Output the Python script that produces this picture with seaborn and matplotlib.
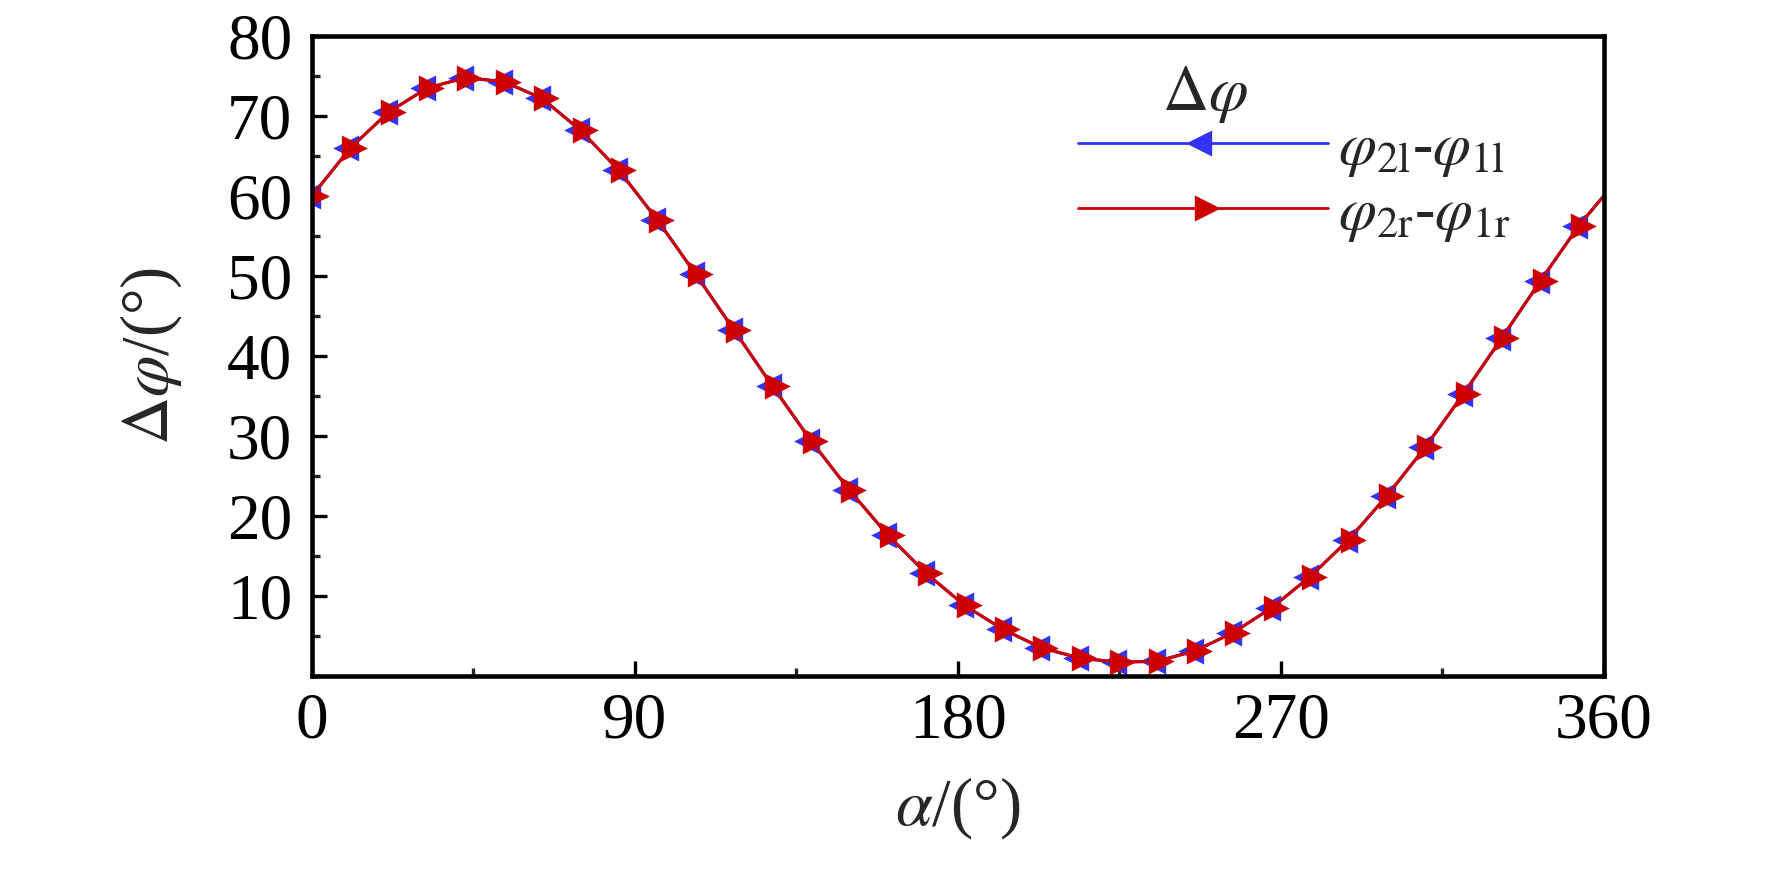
import numpy as np
import pandas as pd
import matplotlib
matplotlib.use("Agg")
import matplotlib.pyplot as plt
from matplotlib.ticker import MultipleLocator
import seaborn as sns

# values
alpha = [0, 10.7, 21.4, 32.1, 42.8, 53.5, 64.2, 74.9, 85.6, 96.3, 107.0, 117.7,
         128.4, 139.1, 149.8, 160.5, 171.2, 181.9, 192.6, 203.3, 214.0, 224.7,
         235.4, 246.1, 256.8, 267.5, 278.2, 288.9, 299.6, 310.3, 321.0, 331.7,
         342.4, 353.1, 360]
dphi_l = [60.0, 66.0, 70.5, 73.5, 74.8, 74.3, 72.2, 68.2, 63.2, 57.0, 50.2, 43.2,
          36.2, 29.4, 23.2, 17.6, 12.8, 8.8, 5.8, 3.5, 2.2, 1.7,
          1.8, 3.1, 5.4, 8.5, 12.4, 17.0, 22.5, 28.6, 35.3, 42.3,
          49.4, 56.3, 60.0]
dphi_r = [60.0, 66.0, 70.5, 73.5, 74.8, 74.3, 72.2, 68.2, 63.2, 57.0, 50.2, 43.2,
          36.2, 29.4, 23.2, 17.6, 12.8, 8.8, 5.8, 3.5, 2.2, 1.7,
          1.8, 3.1, 5.4, 8.5, 12.4, 17.0, 22.5, 28.6, 35.3, 42.3,
          49.4, 56.3, 60.0]

x_ticks = [0, 90, 180, 270, 360]
y_ticks = [10, 20, 30, 40, 50, 60, 70, 80]

label_l = r'$\varphi_{2\mathrm{l}}$-$\varphi_{1\mathrm{l}}$'
label_r = r'$\varphi_{2\mathrm{r}}$-$\varphi_{1\mathrm{r}}$'

df = pd.DataFrame({'alpha': alpha, 'left': dphi_l, 'right': dphi_r})

# triangles centred on their centroid (like Origin does)
tri_right = [(4 / 3, 0), (-2 / 3, 1), (-2 / 3, -1)]
tri_left = [(-4 / 3, 0), (2 / 3, 1), (2 / 3, -1)]

sns.set_theme(style='ticks')
plt.rcParams['font.family'] = ['Liberation Serif', 'DejaVu Serif']
plt.rcParams['mathtext.fontset'] = 'stix'

fig = plt.figure(figsize=(17.72, 8.81), dpi=100)
ax = fig.add_axes([0.176, 0.233, 0.729, 0.726])

marks = list(range(len(alpha) - 1))
sns.lineplot(data=df, x='alpha', y='left', ax=ax, color='#3333f5', linewidth=2.2,
             marker=tri_left, markersize=25, markeredgewidth=0, markevery=marks,
             label=label_l)
sns.lineplot(data=df, x='alpha', y='right', ax=ax, color='#cc0000', linewidth=2.2,
             marker=tri_right, markersize=25, markeredgewidth=0, markevery=marks,
             label=label_r)

ax.set_xlim(0, 360)
ax.set_ylim(0, 80)
ax.set_xticks(x_ticks)
ax.set_yticks(y_ticks)
ax.xaxis.set_minor_locator(MultipleLocator(45))
ax.yaxis.set_minor_locator(MultipleLocator(5))
ax.tick_params(which='major', direction='in', length=11, width=2.4, labelsize=47,
               colors='black')
ax.tick_params(which='minor', direction='in', length=6, width=2.4)
ax.tick_params(axis='x', which='major', pad=12)
ax.tick_params(axis='y', which='major', pad=14)
for s in ax.spines.values():
    s.set_linewidth(3.3)
    s.set_color('black')

ax.set_xlabel(r'$\alpha$/(°)', fontsize=48, labelpad=17)
ax.set_ylabel(r'$\Delta\varphi$/(°)', fontsize=48, labelpad=31)

leg = ax.legend(loc='center left', bbox_to_anchor=(0.593, 0.771), frameon=False,
                fontsize=44, handlelength=4.1, handletextpad=0.15,
                labelspacing=0.12, borderpad=0, borderaxespad=0)
for h in leg.legend_handles:
    h.set_linewidth(2)
ax.text(0.691, 0.885, r'$\Delta\varphi$', transform=ax.transAxes,
        fontsize=46, ha='center', va='baseline')

fig.savefig('out.png', dpi=100, facecolor='white')
